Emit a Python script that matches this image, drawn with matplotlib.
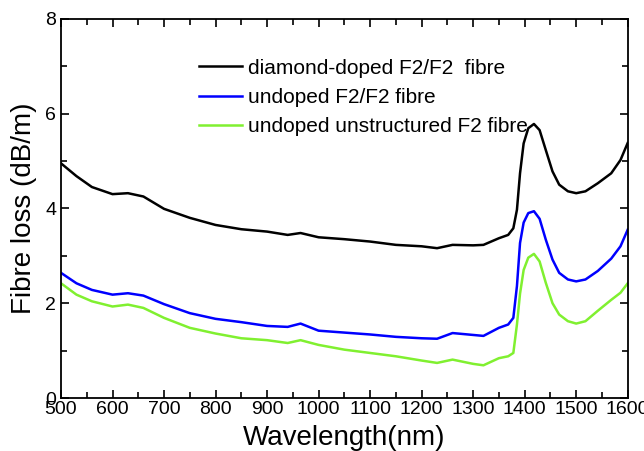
import numpy as np
import matplotlib.pyplot as plt
from matplotlib.ticker import MultipleLocator

plt.rcParams['font.family'] = ['Liberation Sans', 'DejaVu Sans']

# wavelength (nm)
wl = [500, 530, 560, 600, 630, 660, 700, 750, 800, 850, 900, 940, 965, 1000,
      1050, 1100, 1150, 1200, 1230, 1260, 1300, 1320, 1350, 1368, 1378, 1385,
      1391, 1398, 1407, 1418, 1429, 1441, 1454, 1467, 1484, 1500, 1518, 1542,
      1568, 1586, 1600]

# diamond-doped F2/F2 fibre
loss_diamond = [4.95, 4.68, 4.45, 4.30, 4.32, 4.25, 3.99, 3.80, 3.65, 3.56, 3.51,
                3.44, 3.48, 3.39, 3.35, 3.30, 3.23, 3.20, 3.16, 3.23, 3.22, 3.23,
                3.37, 3.44, 3.58, 3.97, 4.74, 5.37, 5.69, 5.78, 5.65, 5.23, 4.78,
                4.50, 4.36, 4.32, 4.36, 4.53, 4.74, 5.02, 5.38]

# undoped F2/F2 fibre
loss_undoped = [2.64, 2.42, 2.28, 2.18, 2.21, 2.16, 1.98, 1.79, 1.67, 1.60, 1.52,
                1.50, 1.57, 1.42, 1.38, 1.34, 1.29, 1.26, 1.25, 1.37, 1.33, 1.31,
                1.48, 1.55, 1.69, 2.36, 3.27, 3.70, 3.90, 3.94, 3.78, 3.34, 2.92,
                2.64, 2.50, 2.46, 2.50, 2.68, 2.94, 3.20, 3.55]

# undoped unstructured F2 fibre
loss_unstruct = [2.42, 2.18, 2.04, 1.93, 1.97, 1.90, 1.69, 1.48, 1.36, 1.26, 1.22,
                 1.16, 1.22, 1.12, 1.02, 0.95, 0.88, 0.79, 0.74, 0.81, 0.72, 0.69,
                 0.84, 0.88, 0.95, 1.55, 2.20, 2.70, 2.96, 3.04, 2.88, 2.43, 2.00,
                 1.76, 1.62, 1.57, 1.62, 1.84, 2.07, 2.22, 2.42]

fig = plt.figure(figsize=(6.44, 4.51), dpi=100)
ax = fig.add_axes([0.0947, 0.1175, 0.880, 0.841])

ax.plot(wl, loss_diamond, color='black', lw=1.8, label='diamond-doped F2/F2  fibre')
ax.plot(wl, loss_undoped, color='#0000ff', lw=1.8, label='undoped F2/F2 fibre')
ax.plot(wl, loss_unstruct, color='#80f030', lw=1.8, label='undoped unstructured F2 fibre')

ax.set_xlim(500, 1600)
ax.set_ylim(0, 8)
ax.xaxis.set_major_locator(MultipleLocator(100))
ax.xaxis.set_minor_locator(MultipleLocator(50))
ax.yaxis.set_major_locator(MultipleLocator(2))
ax.yaxis.set_minor_locator(MultipleLocator(1))
ax.tick_params(which='both', direction='in', top=True, right=True, labelsize=14, width=1.2)
ax.tick_params(which='major', length=6)
ax.tick_params(which='minor', length=4)
ax.tick_params(axis='x', pad=2)
for s in ax.spines.values():
    s.set_linewidth(1.3)

ax.set_xlabel('Wavelength(nm)', fontsize=20, labelpad=5)
ax.set_ylabel('Fibre loss (dB/m)', fontsize=20, labelpad=6)

ax.legend(loc='upper left', bbox_to_anchor=(0.243, 0.895), frameon=False,
          fontsize=15, handlelength=2.1, handletextpad=0.25, labelspacing=0.5,
          borderpad=0, borderaxespad=0)

fig.savefig('out.png', dpi=100)
